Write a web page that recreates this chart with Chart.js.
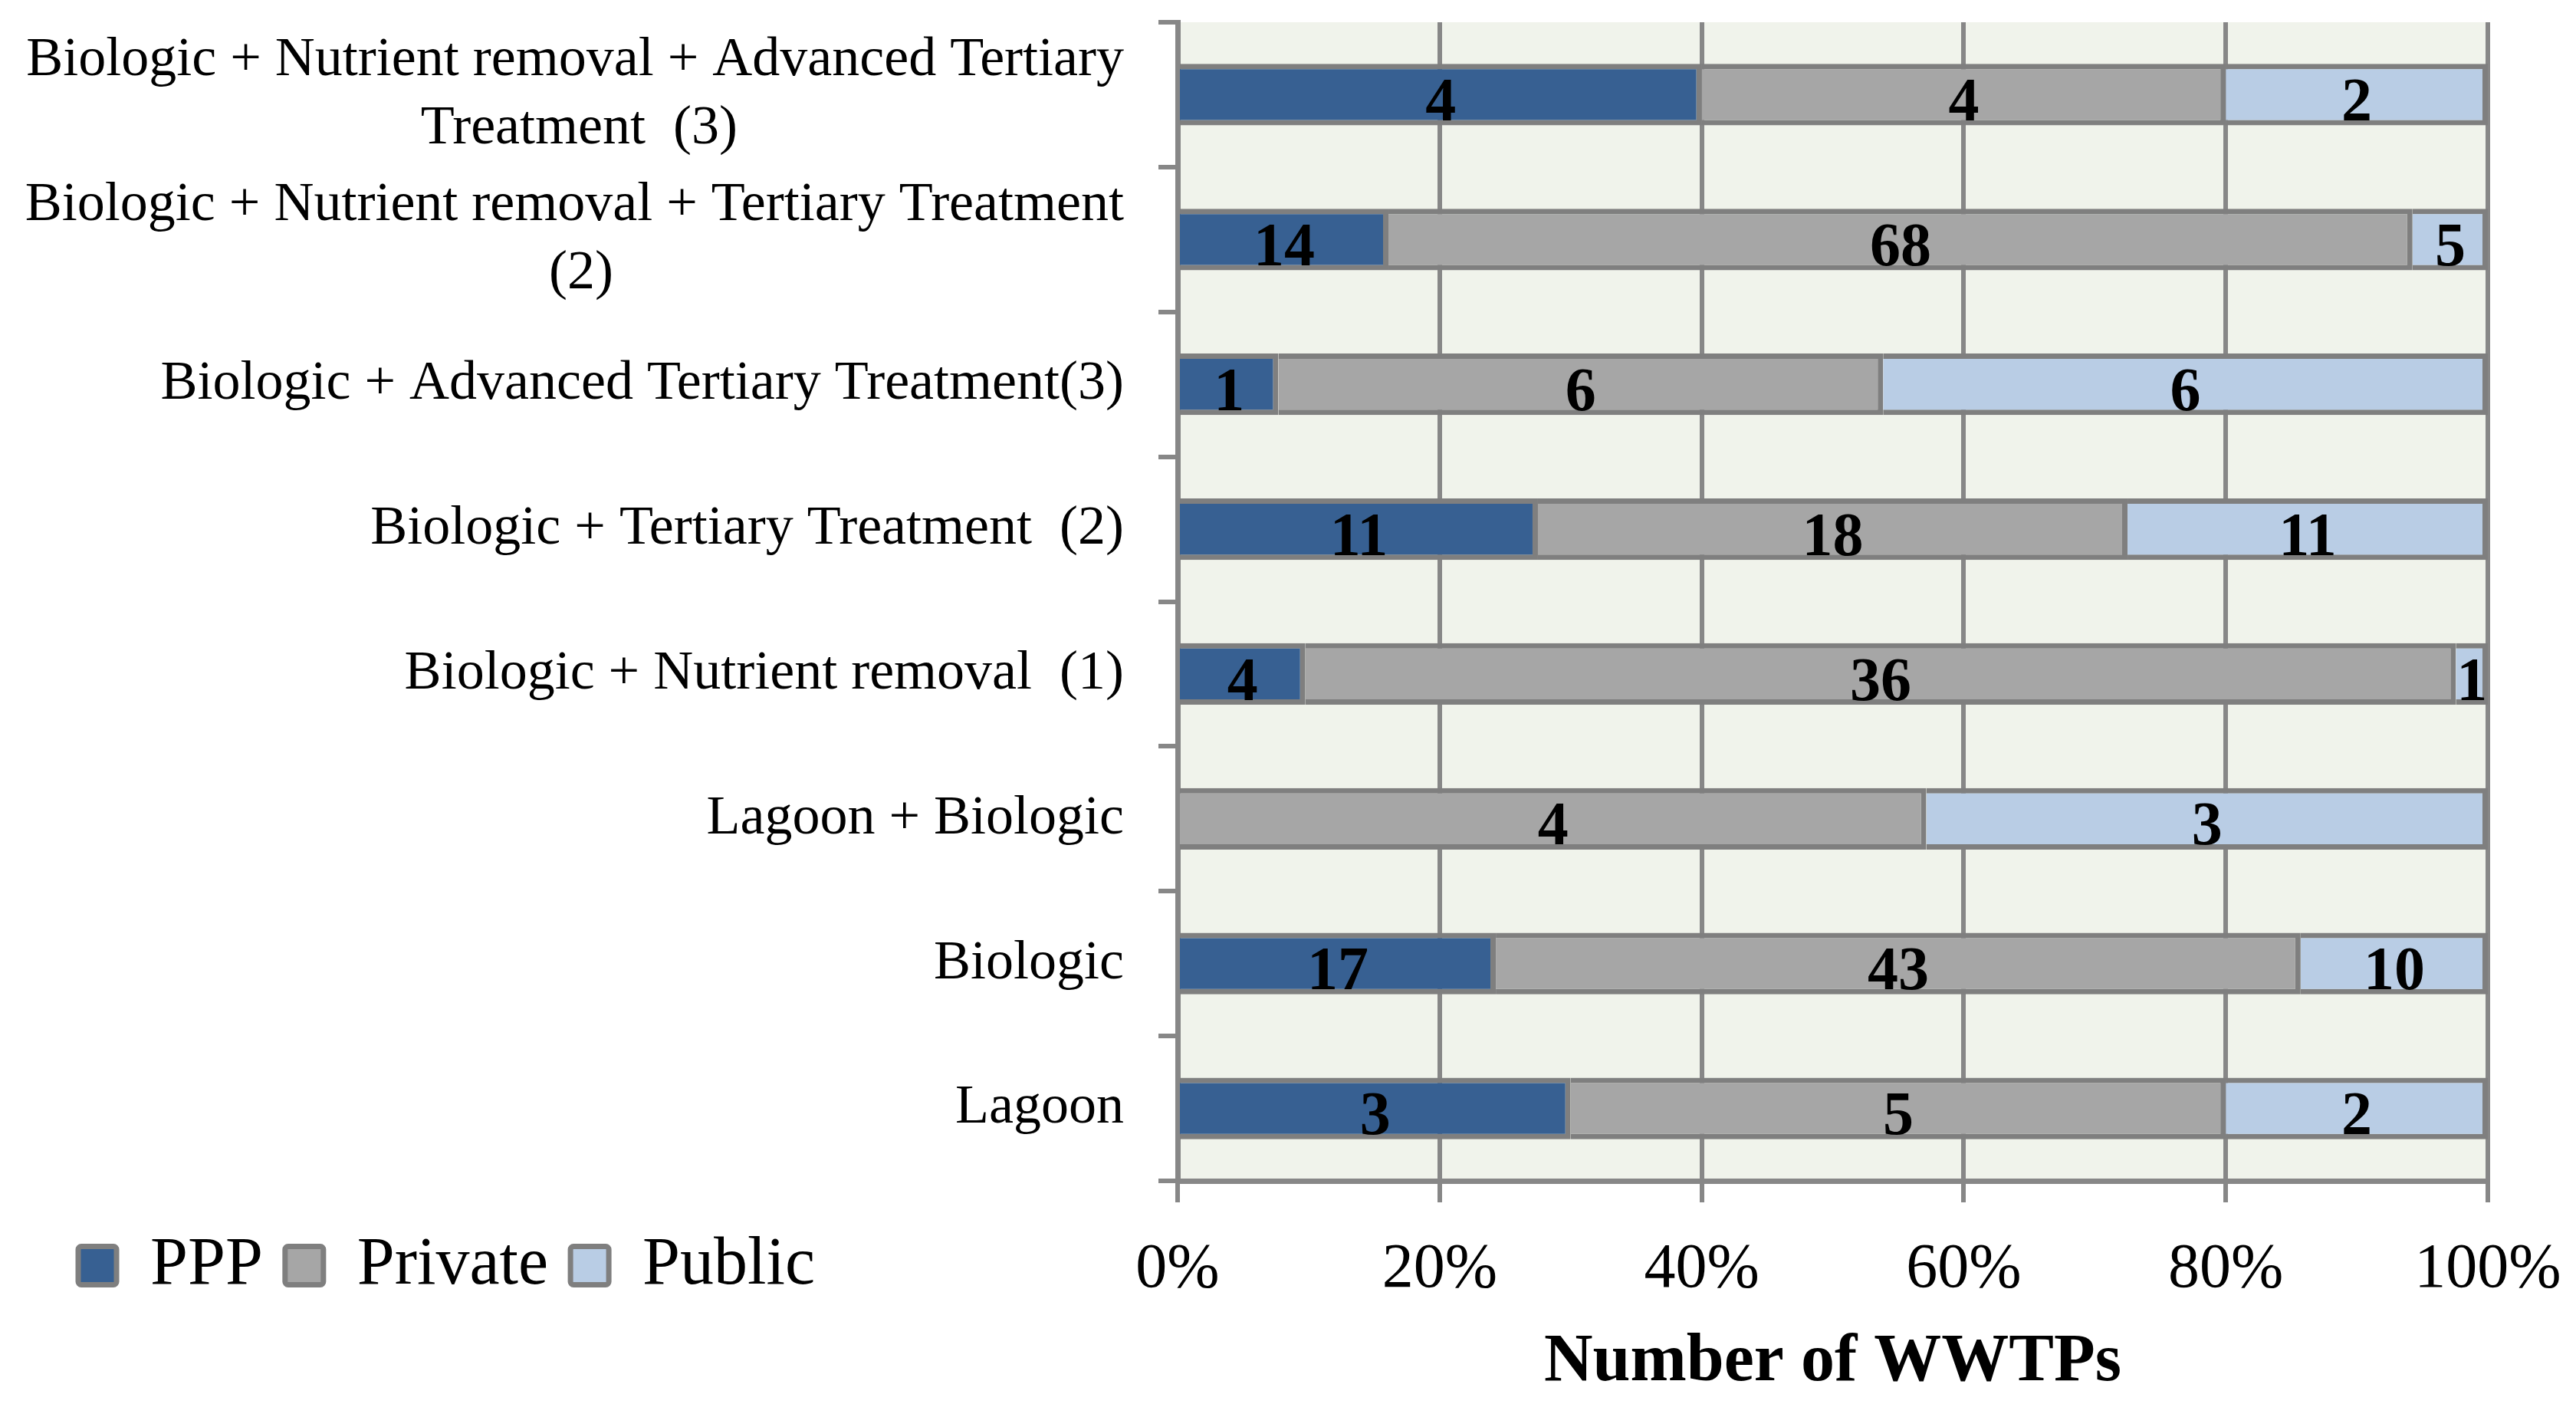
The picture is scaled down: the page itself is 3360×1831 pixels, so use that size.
<!DOCTYPE html>
<html>
<head>
<meta charset="utf-8">
<script src="https://cdn.jsdelivr.net/npm/chart.js@4.4.1/dist/chart.umd.min.js"></script>
<style>
  html, body { margin: 0; padding: 0; background: #ffffff; }
  #wrap { width: 3360px; height: 1831px; position: relative; }
</style>
</head>
<body>
<div id="wrap"><canvas id="c"></canvas></div>
<script>
// ---- data ----
const categories = [
  ['Biologic + Nutrient removal + Advanced Tertiary', 'Treatment  (3)'],
  ['Biologic + Nutrient removal + Tertiary Treatment', '(2)'],
  'Biologic + Advanced Tertiary Treatment(3)',
  'Biologic + Tertiary Treatment  (2)',
  'Biologic + Nutrient removal  (1)',
  'Lagoon + Biologic',
  'Biologic',
  'Lagoon'
];
const seriesNames = ['PPP', 'Private', 'Public'];
const pppCounts     = [4, 14, 1, 11, 4, 0, 17, 3];
const privateCounts = [4, 68, 6, 18, 36, 4, 43, 5];
const publicCounts  = [2, 5, 6, 11, 1, 3, 10, 2];
const xTickValues   = [0, 20, 40, 60, 80, 100];
const xTitle = 'Number of WWTPs';

// ---- derived shares (100% stacked) ----
const seriesCounts = [pppCounts, privateCounts, publicCounts];
const totals = categories.map((_, i) => seriesCounts.reduce((s, arr) => s + arr[i], 0));
const toShare = arr => arr.map((v, i) => v / totals[i] * 100);

const FONT = '"Liberation Serif", "Times New Roman", serif';
const Y_FONT_SIZE = 72;
const colors = ['#376092', '#A6A6A6', '#B9CDE5'];

const measureCtx = document.createElement('canvas').getContext('2d');
function centerLines(label) {
  if (!Array.isArray(label)) return label;
  measureCtx.font = Y_FONT_SIZE + 'px ' + FONT;
  const ws = label.map(l => measureCtx.measureText(l).width);
  const maxW = Math.max(...ws);
  const sp = measureCtx.measureText(' ').width;
  return label.map((l, i) => l + ' '.repeat(Math.max(0, Math.round((maxW - ws[i]) / 2 / sp))));
}

const plotBg = {
  id: 'plotBg',
  beforeDraw(chart) {
    const { ctx, chartArea: a } = chart;
    ctx.save();
    ctx.fillStyle = '#F0F3EB';
    ctx.fillRect(a.left, a.top, a.right - a.left, a.bottom - a.top);
    ctx.restore();
  }
};

const legendMove = {
  id: 'legendMove',
  beforeLayout(chart) {
    const lg = chart.legend;
    if (lg && !lg._patched) {
      const fit = lg.fit;
      lg.fit = function () { fit.call(this); this._fullH = this.height; this.height = 0; };
      lg._patched = true;
    }
  },
  afterLayout(chart, args, opts) {
    const lg = chart.legend;
    if (!lg) return;
    const w = lg.right - lg.left;
    lg.left = opts.left; lg.right = opts.left + w;
    lg.top = opts.top; lg.bottom = opts.top + (lg._fullH || 100);
  }
};

const barLabels = {
  id: 'barLabels',
  afterDatasetsDraw(chart, args, opts) {
    const ctx = chart.ctx;
    ctx.save();
    ctx.font = 'bold ' + opts.size + 'px ' + FONT;
    ctx.fillStyle = '#000000';
    ctx.textAlign = 'center';
    ctx.textBaseline = 'alphabetic';
    chart.data.datasets.forEach((ds, di) => {
      const meta = chart.getDatasetMeta(di);
      meta.data.forEach((bar, i) => {
        const c = ds.counts[i];
        if (!c) return;
        const p = bar.getProps(['x', 'base', 'y'], true);
        ctx.fillText(String(c), (p.x + p.base) / 2, p.y + opts.size * 0.42);
      });
    });
    ctx.restore();
  }
};

const datasets = seriesNames.map((name, k) => ({
  label: name,
  data: toShare(seriesCounts[k]),
  counts: seriesCounts[k],
  backgroundColor: colors[k],
  borderColor: '#7F7F7F',
  borderWidth: 7,
  borderSkipped: 'start',
  categoryPercentage: 1,
  barPercentage: 0.425
}));

new Chart(document.getElementById('c'), {
  type: 'bar',
  data: { labels: categories, datasets },
  plugins: [plotBg, legendMove, barLabels],
  options: {
    indexAxis: 'y',
    responsive: true,
    maintainAspectRatio: false,
    devicePixelRatio: 1,
    animation: false,
    layout: { padding: { top: 29, right: 115, bottom: 10, left: 0 } },
    plugins: {
      tooltip: { enabled: false },
      legendMove: { left: 73, top: 1577.5 },
      barLabels: { size: 80 },
      legend: {
        display: true,
        position: 'bottom',
        align: 'start',
        labels: {
          font: { family: FONT, size: 88 },
          color: '#000000',
          boxWidth: 50,
          boxHeight: 50,
          padding: 29,
          useBorderRadius: true,
          borderRadius: 4
        }
      }
    },
    scales: {
      x: {
        stacked: true,
        min: 0,
        max: 100,
        afterBuildTicks(scale) { scale.ticks = xTickValues.map(v => ({ value: v })); },
        afterFit(scale) { scale.paddingLeft = 0; scale.paddingRight = 0; },
        ticks: {
          stepSize: 20,
          autoSkip: false,
          maxRotation: 0,
          padding: 47,
          color: '#000000',
          font: { family: FONT, size: 82, lineHeight: 1.0 },
          callback: v => v + '%'
        },
        grid: {
          color: '#878787',
          lineWidth: 6,
          drawTicks: true,
          tickLength: 28,
          tickColor: '#878787'
        },
        border: { display: true, color: '#878787', width: 7 },
        title: {
          display: true,
          text: xTitle,
          color: '#000000',
          font: { family: FONT, size: 88, weight: 'bold', lineHeight: 1.0 },
          padding: { top: -11, bottom: 0 }
        }
      },
      y: {
        stacked: true,
        afterFit(scale) { scale.width = 1536; scale.paddingTop = 0; scale.paddingBottom = 0; },
        ticks: {
          padding: 45,
          color: '#000000',
          font: { family: FONT, size: Y_FONT_SIZE, lineHeight: 1.24 },
          callback: function (v) { return centerLines(this.getLabelForValue(v)); }
        },
        grid: {
          display: true,
          drawOnChartArea: false,
          drawTicks: true,
          tickLength: 25,
          offset: true,
          color: '#878787',
          tickColor: '#878787',
          lineWidth: 6
        },
        border: { display: true, color: '#878787', width: 7 }
      }
    }
  }
});
</script>
</body>
</html>
